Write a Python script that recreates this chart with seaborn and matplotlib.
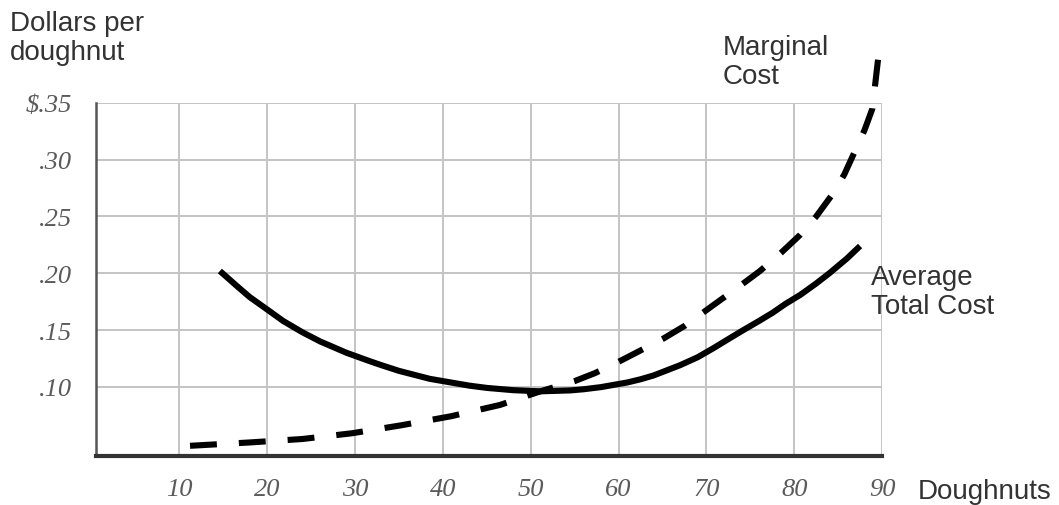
import pandas as pd
import seaborn as sns
import matplotlib.pyplot as plt

# Values (doughnuts, dollars per doughnut)
atc_q = [14.6, 16.5, 18.0, 20.0, 21.8, 24.0, 26.0, 29.0, 31.5, 33.0, 35.0, 38.5,
         41.5, 43.0, 45.0, 48.0, 51.1, 54.5, 56.0, 58.0, 61.0, 62.5, 64.0, 67.0,
         69.0, 70.8, 72.5, 74.0, 76.0, 77.5, 79.0, 80.7, 82.5, 84.0, 86.0, 87.5]
atc_cost = [0.202, 0.189, 0.179, 0.168, 0.158, 0.148, 0.140, 0.130, 0.123, 0.119,
            0.114, 0.107, 0.103, 0.101, 0.099, 0.097, 0.096, 0.0968, 0.0978, 0.0997,
            0.1038, 0.1066, 0.110, 0.119, 0.126, 0.134, 0.142, 0.149, 0.158, 0.165,
            0.173, 0.181, 0.191, 0.200, 0.213, 0.224]

mc_q = [11.2, 18.1, 24.0, 29.6, 35.2, 40.9, 46.5, 51.1, 55.0, 57.3, 60.0, 62.5,
        65.0, 67.6, 70.8, 73.5, 76.1, 78.5, 80.7, 82.5, 84.3, 85.7, 87.0, 88.0,
        88.9, 89.6]
mc_cost = [0.048, 0.051, 0.054, 0.059, 0.066, 0.074, 0.084, 0.096, 0.105, 0.112,
           0.122, 0.132, 0.142, 0.154, 0.172, 0.187, 0.202, 0.218, 0.234, 0.250,
           0.269, 0.287, 0.309, 0.326, 0.345, 0.392]

x_ticks = [10, 20, 30, 40, 50, 60, 70, 80, 90]
y_ticks = [0.10, 0.15, 0.20, 0.25, 0.30, 0.35]
y_tick_labels = ['.10', '.15', '.20', '.25', '.30', '\\$.35']


def main():
    sns.set_style('white')
    plt.rcParams['font.family'] = ['Liberation Sans', 'DejaVu Sans']

    atc = pd.DataFrame({'q': atc_q, 'cost': atc_cost})
    mc = pd.DataFrame({'q': mc_q, 'cost': mc_cost})

    fig = plt.figure(figsize=(10.59, 5.06), dpi=100)
    ax = fig.add_axes([0.0907, 0.0968, 0.8329 - 0.0907, 0.7945 - 0.0968])

    sns.lineplot(data=atc, x='q', y='cost', ax=ax, color='black', linewidth=4.4,
                 solid_capstyle='butt', solid_joinstyle='round', zorder=3)
    sns.lineplot(data=mc, x='q', y='cost', ax=ax, color='black', linewidth=4.4,
                 dash_joinstyle='round', zorder=3, clip_on=False)
    ax.lines[-1].set_dashes([4.4, 3.6])

    ax.set_xlim(0.5, 90)
    ax.set_ylim(0.039, 0.35)

    # light grid, including the top (.35) and right (90) lines
    for xv in x_ticks:
        ax.axvline(xv, color='#c4c4c4', linewidth=1.4, zorder=1)
    for yv in y_ticks:
        ax.axhline(yv, color='#c4c4c4', linewidth=1.4, zorder=1)

    ax.set_xticks(x_ticks)
    ax.set_xticklabels([str(v) for v in x_ticks])
    ax.set_yticks(y_ticks)
    ax.set_yticklabels(y_tick_labels)
    for lab in ax.get_xticklabels() + ax.get_yticklabels():
        lab.set_fontfamily('Liberation Serif')
        lab.set_fontstyle('italic')
        lab.set_fontsize(19)
        lab.set_color('#5a5a5a')
    ax.tick_params(axis='x', length=0, pad=16)
    ax.tick_params(axis='y', length=0, pad=17)

    ax.set_xlabel('')
    ax.set_ylabel('')
    for side in ['top', 'right']:
        ax.spines[side].set_visible(False)
    ax.spines['left'].set_color('#555555')
    ax.spines['left'].set_linewidth(1.8)
    ax.spines['bottom'].set_color('#333333')
    ax.spines['bottom'].set_linewidth(3)

    txt = dict(fontsize=20, color='#333333')
    fig.text(10 / 1059, 1 - 11 / 506, 'Dollars per\ndoughnut', ha='left', va='top',
             linespacing=1.15, **txt)
    fig.text(918 / 1059, 1 - 492 / 506, 'Doughnuts', ha='left', va='center', **txt)
    fig.text(723 / 1059, 1 - 35 / 506, 'Marginal\nCost', ha='left', va='top',
             linespacing=1.15, **txt)
    fig.text(871 / 1059, 1 - 265 / 506, 'Average\nTotal Cost', ha='left', va='top',
             linespacing=1.15, **txt)

    plt.savefig('out.png', dpi=100)


if __name__ == "__main__":
    main()
